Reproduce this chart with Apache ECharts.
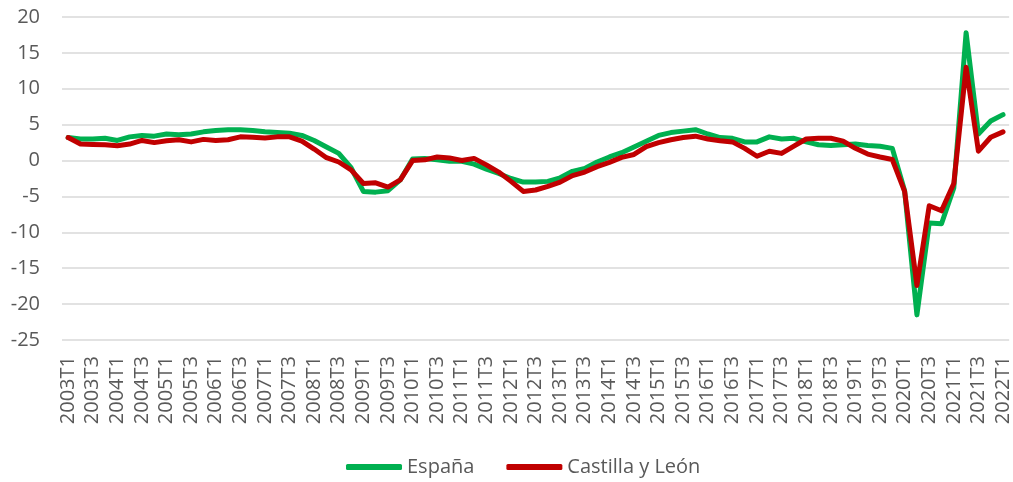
<!DOCTYPE html>
<html>
<head>
<meta charset="utf-8">
<script src="https://cdn.jsdelivr.net/npm/echarts@6/dist/echarts.min.js"></script>
<style>
html,body{margin:0;padding:0;background:#fff;}
#chart{width:1013px;height:482px;}
</style>
</head>
<body>
<div id="chart"></div>
<script>
// Categories: 2003T1 .. 2022T1
const years = ['2003','2004','2005','2006','2007','2008','2009','2010','2011','2012','2013','2014','2015','2016','2017','2018','2019','2020','2021','2022'];
const quarters = ['T1','T2','T3','T4'];
const categories = [];
years.forEach(y => quarters.forEach(q => { if (!(y === '2022' && q !== 'T1')) categories.push(y + q); }));

const espana = [
  3.2, 3.0, 3.0, 3.1, 2.8, 3.3, 3.5, 3.4, 3.7, 3.6, 3.7, 4.0,
  4.2, 4.3, 4.3, 4.2, 4.0, 3.9, 3.8, 3.5, 2.8, 1.9, 1.0, -1.0,
  -4.3, -4.4, -4.2, -2.7, 0.2, 0.3, 0.1, -0.1, -0.1, -0.5, -1.2, -1.8,
  -2.5, -3.0, -3.0, -2.9, -2.4, -1.5, -1.1, -0.2, 0.5, 1.1, 1.9, 2.7,
  3.5, 3.9, 4.1, 4.3, 3.7, 3.2, 3.1, 2.6, 2.6, 3.3, 3.0, 3.1,
  2.6, 2.2, 2.1, 2.2, 2.3, 2.1, 2.0, 1.7, -4.2, -21.5, -8.7, -8.8,
  -3.8, 17.8, 3.7, 5.5, 6.4
];
const castillaLeon = [
  3.2, 2.3, 2.25, 2.2, 2.05, 2.3, 2.8, 2.5, 2.75, 2.9, 2.6, 2.95,
  2.8, 2.9, 3.3, 3.25, 3.15, 3.3, 3.3, 2.7, 1.6, 0.4, -0.2, -1.3,
  -3.2, -3.1, -3.7, -2.7, 0.0, 0.1, 0.5, 0.35, 0.0, 0.3, -0.6, -1.6,
  -2.9, -4.3, -4.1, -3.6, -3.0, -2.1, -1.6, -0.85, -0.25, 0.45, 0.85, 1.95,
  2.5, 2.9, 3.2, 3.4, 3.0, 2.75, 2.6, 1.7, 0.6, 1.3, 1.0, 2.0,
  3.0, 3.1, 3.1, 2.7, 1.7, 0.9, 0.5, 0.15, -4.3, -17.4, -6.3, -7.0,
  -3.2, 13.0, 1.3, 3.25, 4.0
];
const seriesNames = ['España', 'Castilla y León'];

const FONT = '"Open Sans", sans-serif';
const TXT = '#595959';

const chart = echarts.init(document.getElementById('chart'), null, {renderer: 'canvas'});
chart.setOption({
  animation: false,
  backgroundColor: '#ffffff',
  grid: {left: 62, right: 2, top: 17, bottom: 142, containLabel: false},
  legend: {
    data: seriesNames.map(n => ({name: n, icon: 'roundRect'})),
    bottom: 0,
    left: 341,
    itemWidth: 56,
    itemHeight: 6,
    itemGap: 32,
    textStyle: {fontFamily: FONT, fontSize: 20, color: TXT, padding: [0, 0, 0, 0]}
  },
  xAxis: {
    type: 'category',
    data: categories,
    boundaryGap: true,
    axisLine: {show: false},
    axisTick: {show: false},
    axisLabel: {
      interval: 1,
      rotate: 90,
      margin: 16,
      fontFamily: FONT,
      fontSize: 20,
      color: TXT
    },
    splitLine: {show: false}
  },
  yAxis: {
    type: 'value',
    min: -25,
    max: 20,
    interval: 5,
    axisLine: {show: false},
    axisTick: {show: false},
    axisLabel: {margin: 22, fontFamily: FONT, fontSize: 20, color: TXT},
    splitLine: {lineStyle: {color: '#d9d9d9', width: 1.5}}
  },
  series: [
    {
      name: seriesNames[0],
      type: 'line',
      data: espana,
      symbol: 'none',
      lineStyle: {color: '#00B050', width: 5, join: 'round', cap: 'round'},
      itemStyle: {color: '#00B050'}
    },
    {
      name: seriesNames[1],
      type: 'line',
      data: castillaLeon,
      symbol: 'none',
      lineStyle: {color: '#C00000', width: 5, join: 'round', cap: 'round'},
      itemStyle: {color: '#C00000'}
    }
  ]
});
</script>
</body>
</html>
